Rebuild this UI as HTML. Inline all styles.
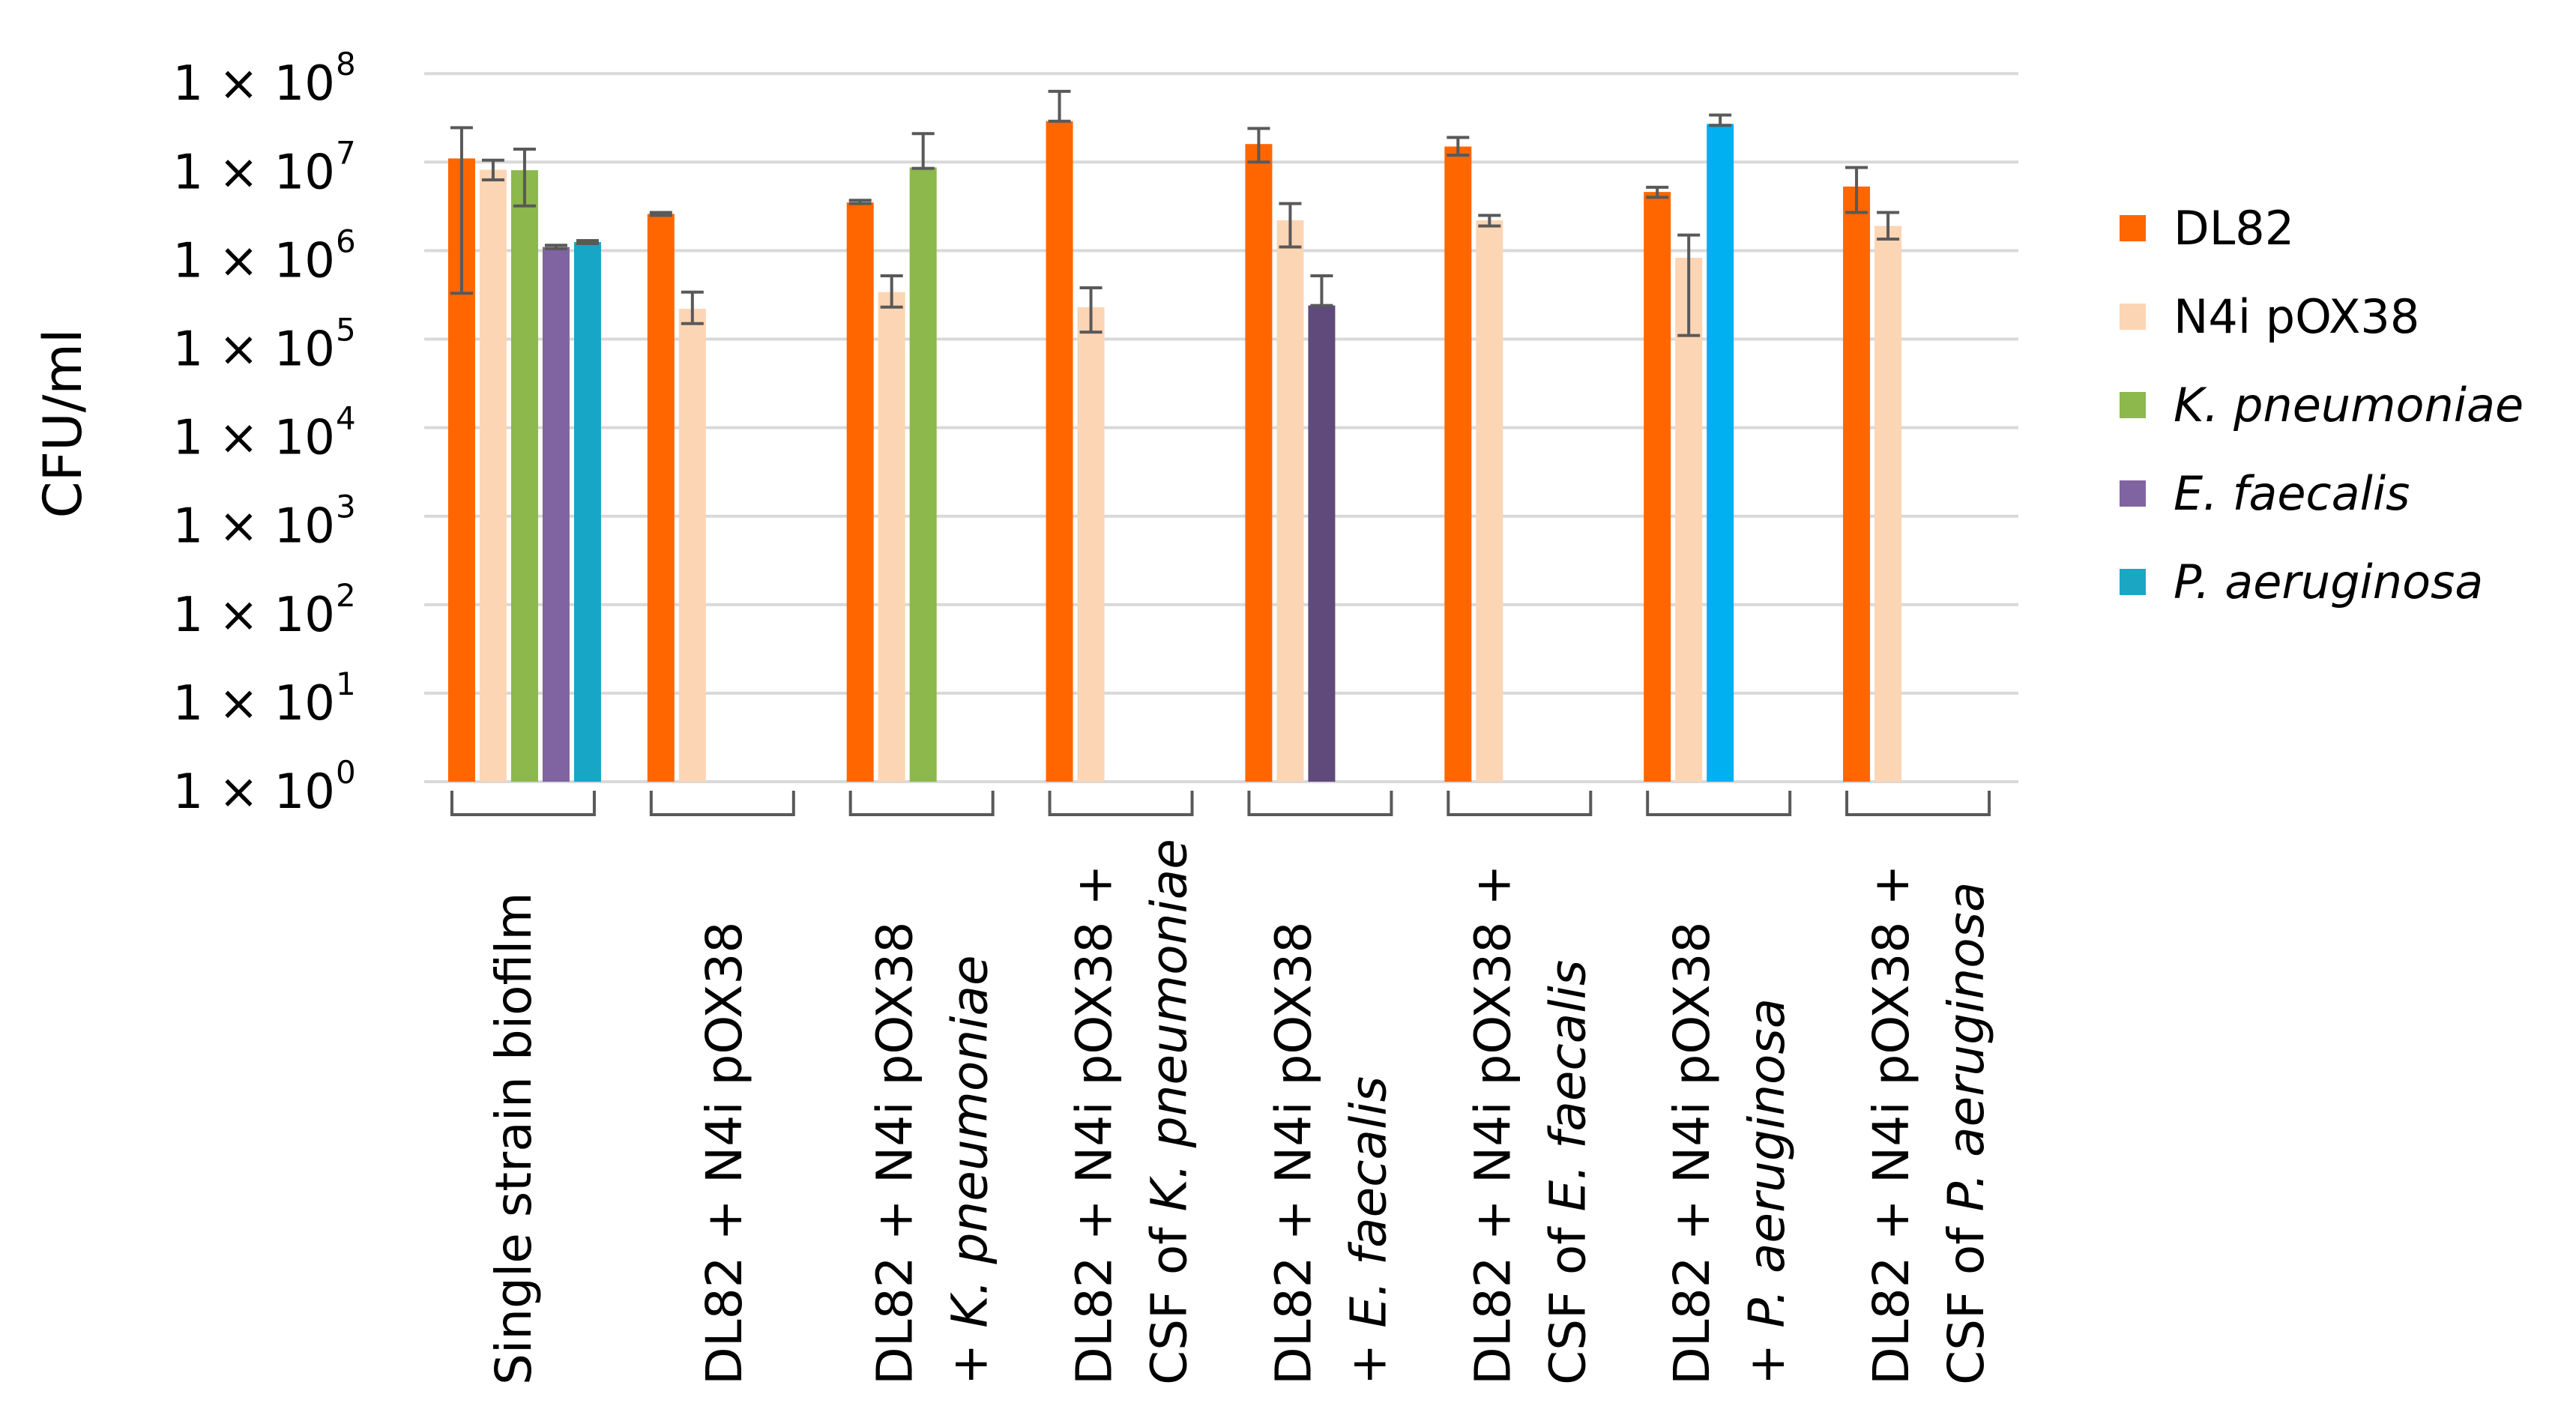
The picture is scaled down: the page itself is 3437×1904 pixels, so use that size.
<!DOCTYPE html>
<html><head><meta charset="utf-8"><style>
html,body{margin:0;padding:0;background:#fff}
svg{display:block}
text{font-family:"DejaVu Sans","Liberation Sans",sans-serif;fill:#000}
</style></head><body>
<svg id="chart" width="3437" height="1904" viewBox="0 0 3437 1904" xmlns="http://www.w3.org/2000/svg">
<g id="grid"></g>
<g id="yticks"></g>
<g id="bars"></g>
<g id="errs"></g>
<g id="xaxis"></g>
<text transform="translate(108,565) rotate(-90)" text-anchor="middle" font-size="70" textLength="253" lengthAdjust="spacingAndGlyphs">CFU/ml</text>
<g id="legend"></g>
</svg>
<script>
const categories = ["Single strain biofilm","DL82 + N4i pOX38","DL82 + N4i pOX38 + K. pneumoniae","DL82 + N4i pOX38 + CSF of K. pneumoniae","DL82 + N4i pOX38 + E. faecalis","DL82 + N4i pOX38 + CSF of E. faecalis","DL82 + N4i pOX38 + P. aeruginosa","DL82 + N4i pOX38 + CSF of P. aeruginosa"];
const seriesNames = ["DL82","N4i pOX38","K. pneumoniae","E. faecalis","P. aeruginosa"];
const dl82 = [1.1e7, 2.6e6, 3.5e6, 2.9e7, 1.6e7, 1.5e7, 4.6e6, 5.3e6];
const dl82Hi = [2.45e7, 2.7e6, 3.7e6, 6.3e7, 2.4e7, 1.9e7, 5.2e6, 8.7e6];
const dl82Lo = [3.3e5, 2.5e6, 3.4e6, 2.9e7, 1.0e7, 1.2e7, 4.0e6, 2.7e6];
const n4i = [8.2e6, 2.2e5, 3.4e5, 2.3e5, 2.2e6, 2.2e6, 8.3e5, 1.9e6];
const n4iHi = [1.05e7, 3.4e5, 5.2e5, 3.8e5, 3.4e6, 2.5e6, 1.5e6, 2.7e6];
const n4iLo = [6.3e6, 1.5e5, 2.3e5, 1.2e5, 1.1e6, 1.9e6, 1.1e5, 1.35e6];
const kpn = [8.1e6, null, 8.7e6, null, null, null, null, null];
const kpnHi = [1.4e7, null, 2.1e7, null, null, null, null, null];
const kpnLo = [3.2e6, null, 8.5e6, null, null, null, null, null];
const efa = [1.1e6, null, null, null, 2.4e5, null, null, null];
const efaHi = [1.15e6, null, null, null, 5.2e5, null, null, null];
const efaLo = [1.05e6, null, null, null, 2.4e5, null, null, null];
const pae = [1.25e6, null, null, null, null, null, 2.7e7, null];
const paeHi = [1.3e6, null, null, null, null, null, 3.4e7, null];
const paeLo = [1.2e6, null, null, null, null, null, 2.6e7, null];
const yTickExps = [0,1,2,3,4,5,6,7,8];
const labelLines = [["Single strain biofilm"],["DL82 + N4i pOX38"],["DL82 + N4i pOX38","+ |K. pneumoniae"],["DL82 + N4i pOX38 +","CSF of |K. pneumoniae"],["DL82 + N4i pOX38","+ |E. faecalis"],["DL82 + N4i pOX38 +","CSF of |E. faecalis"],["DL82 + N4i pOX38","+ |P. aeruginosa"],["DL82 + N4i pOX38 +","CSF of |P. aeruginosa"]];

const NS="http://www.w3.org/2000/svg";
const PL=566, PR=2693, Y0=1043, DEC=118.1;
const groupW=(PR-PL)/categories.length;
function yOf(v){return Y0-DEC*Math.log10(v);}
function xCenter(i){return PL+groupW*(i+0.5);}
function mk(tag,attrs,parent){const e=document.createElementNS(NS,tag);for(const k in attrs)e.setAttribute(k,attrs[k]);parent.appendChild(e);return e;}
const G=id=>document.getElementById(id);

yTickExps.forEach(p=>{
  const y=yOf(Math.pow(10,p));
  const l=mk('line',{x1:PL,x2:PR,y1:y,y2:y,stroke:'#d9d9d9','stroke-width':4},G('grid'));
  
  
  const t=mk('text',{x:447,y:y+35,'text-anchor':'end','font-size':64},G('yticks'));
  
  
  t.textContent='1 × 10';
  const s=mk('text',{x:448,y:y+2,'font-size':42},G('yticks'));
  
  
  s.textContent=String(p);
});

const series=[
 {name:'dl82',v:dl82,hi:dl82Hi,lo:dl82Lo,c:['#ff6600']},
 {name:'n4i',v:n4i,hi:n4iHi,lo:n4iLo,c:['#fcd5b5']},
 {name:'kpneumoniae',v:kpn,hi:kpnHi,lo:kpnLo,c:['#8cb84c']},
 {name:'efaecalis',v:efa,hi:efaHi,lo:efaLo,c:['#8064a2','#604a7b']},
 {name:'paeruginosa',v:pae,hi:paeHi,lo:paeLo,c:['#17a6c6','#00b0f0']}
];
categories.forEach((cat,i)=>{
  let slot=0;
  const cx=xCenter(i);
  series.forEach(s=>{
    const v=s.v[i]; if(v==null)return;
    const x=cx-101+slot*42;
    const col=(i===0)?s.c[0]:s.c[s.c.length-1];
    const y=yOf(v);
    const r=mk('rect',{x:x,y:y,width:36,height:Y0-y,fill:col},G('bars'));
    
    
    const ex=x+18, yh=yOf(s.hi[i]), yl=yOf(s.lo[i]);
    const e=mk('path',{d:`M${ex},${yh}V${yl}M${ex-15},${yh}H${ex+15}M${ex-15},${yl}H${ex+15}`,stroke:'#595959','stroke-width':4,fill:'none'},G('errs'));
    
    
    slot++;
  });
  const b=mk('path',{d:`M${cx-96},1055V1087H${cx+94}V1055`,stroke:'#595959','stroke-width':4,fill:'none'},G('xaxis'));
  
  
  const lines=labelLines[i];
  lines.forEach((ln,k)=>{
    const off = lines.length===1 ? (i===0?-15:0) : (k===0?-38:62);
    const bx=cx+off+24;
    const t=mk('text',{transform:`translate(${bx},1848) rotate(-90)`,'font-size':66},G('xaxis'));
    
    
    const parts=ln.split('|');
    const a=mk('tspan',{},t); a.textContent=parts[0];
    if(parts[1]){const it=mk('tspan',{'font-style':'italic'},t); it.textContent=parts[1];}
  });
});

const legCols=['#ff6600','#fcd5b5','#8cb84c','#8064a2','#1ba6c4'];
seriesNames.forEach((n,k)=>{
  const cy=304+k*118;
  const r=mk('rect',{x:2828,y:cy-17,width:35,height:35,fill:legCols[k]},G('legend'));
  
  
  const t=mk('text',{x:2900,y:cy+22,'font-size':62,'font-style':k>=2?'italic':'normal'},G('legend'));
  
  
  t.textContent=n;
});
</script>
</body></html>
